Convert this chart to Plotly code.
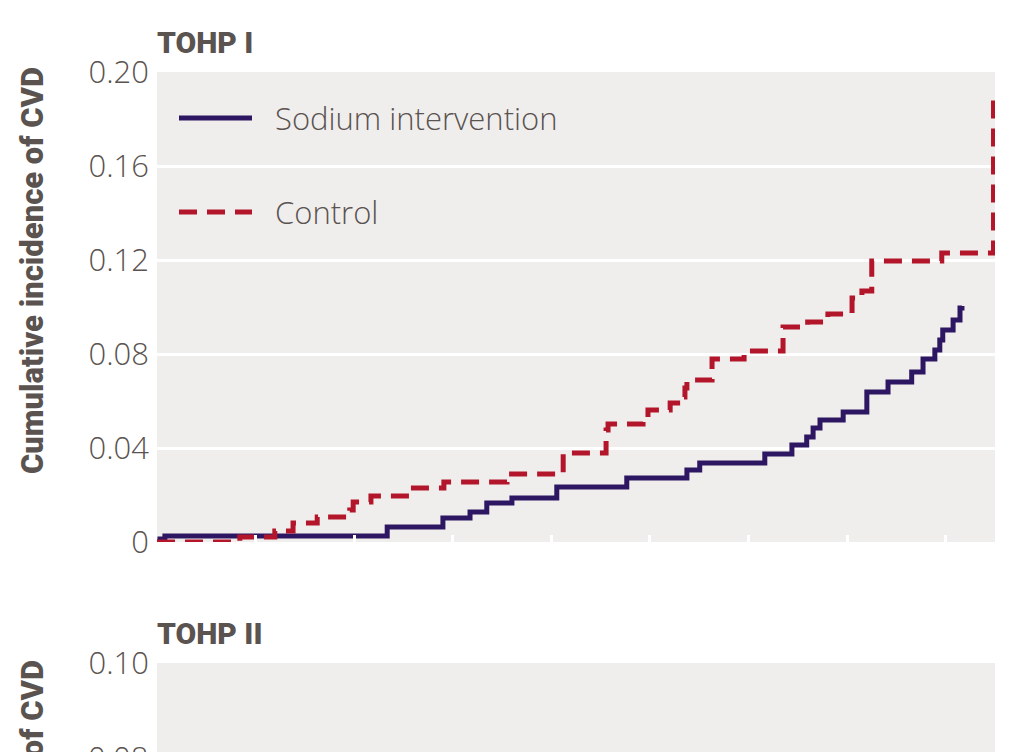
import plotly.graph_objects as go

# ---------------- data ----------------
# years since randomisation (step times) and cumulative incidence of CVD
sodium_years = [0.0, 0.06, 0.16, 4.67, 5.80, 6.35, 6.69, 7.20, 8.11, 9.53, 10.75, 11.01,
                12.33, 12.88, 13.18, 13.31, 13.45, 13.92, 14.40, 14.83, 15.31, 15.54,
                15.78, 15.88, 15.94, 16.15, 16.29, 16.33]
sodium_cvd = [0.0, 0.0013, 0.0026, 0.0064, 0.0102, 0.0128, 0.0166, 0.0187, 0.0234, 0.0272,
              0.0306, 0.0336, 0.0374, 0.0413, 0.0447, 0.0485, 0.0519, 0.0553, 0.0638,
              0.0681, 0.0723, 0.0779, 0.0817, 0.0860, 0.0902, 0.0945, 0.0996, 0.1004]

control_years = [0.0, 1.68, 2.39, 2.76, 3.25, 3.91, 3.98, 4.34, 5.13, 5.82, 7.10, 8.24,
                 9.11, 9.15, 9.86, 9.96, 10.41, 10.65, 10.71, 10.75, 11.26, 11.91, 12.70,
                 13.20, 13.61, 14.10, 14.30, 14.50, 15.92, 16.97]
control_cvd = [0.0, 0.0021, 0.0047, 0.0081, 0.0106, 0.0136, 0.0170, 0.0196, 0.0230, 0.0255,
               0.0289, 0.0379, 0.0477, 0.0502, 0.0532, 0.0562, 0.0591, 0.0617, 0.0655,
               0.0689, 0.0779, 0.0813, 0.0915, 0.0936, 0.0970, 0.1038, 0.1068, 0.1196,
               0.1230, 0.1911]

series_names = ["Sodium intervention", "Control"]
panel_titles = ["TOHP I", "TOHP II"]
y_title = "Cumulative incidence of CVD"

y1_tickvals = [0, 0.04, 0.08, 0.12, 0.16, 0.20]
y1_ticktext = ["0", "0.04", "0.08", "0.12", "0.16", "0.20"]
y2_tickvals = [0.10]
y2_ticktext = ["0.10"]
y2_cut_label = "0.08"
x_tickvals = [0, 2, 4, 6, 8, 10, 12, 14, 16]

# ---------------- style ----------------
W, H = 1023, 752
ML, MR, MT, MB = 157, 28, 72, 0
PH = H - MT - MB
PW = W - ML - MR

def py(p):  # pixel row -> paper y
    return (H - MB - p) / PH

def px(p):  # pixel column -> paper x
    return (p - ML) / PW

PURPLE = "#2e1762"
RED = "#b3162b"
BG = "#f0eeed"
TXT = "#5a5350"
DASH = "18px,10px"

fig = go.Figure()
fig.add_trace(go.Scatter(x=sodium_years, y=sodium_cvd, mode="lines", line_shape="hv",
                         line=dict(color=PURPLE, width=5), name=series_names[0],
                         xaxis="x", yaxis="y", showlegend=False, hoverinfo="skip"))
fig.add_trace(go.Scatter(x=control_years, y=control_cvd, mode="lines", line_shape="hv",
                         line=dict(color=RED, width=5, dash=DASH), name=series_names[1],
                         xaxis="x", yaxis="y", showlegend=False, hoverinfo="skip"))
# empty trace so the lower (cut-off) panel is created
fig.add_trace(go.Scatter(x=[None], y=[None], mode="lines", xaxis="x2", yaxis="y2",
                         showlegend=False, hoverinfo="skip"))

tickfont = dict(family="Open Sans", size=31, color=TXT, weight=300)

fig.update_layout(
    template="none",
    width=W, height=H,
    margin=dict(l=ML, r=MR, t=MT, b=MB, pad=0, autoexpand=False),
    paper_bgcolor="white",
    plot_bgcolor=BG,
    showlegend=False,
    xaxis=dict(domain=[0, 1], range=[0, 17], anchor="y", tickvals=x_tickvals,
               showticklabels=False, ticks="inside", ticklen=7, tickwidth=3,
               tickcolor="white", showgrid=False, zeroline=False, showline=False,
               automargin=False),
    yaxis=dict(domain=[py(542), 1], range=[0, 0.20], anchor="x",
               tickvals=y1_tickvals, ticktext=y1_ticktext, tickfont=tickfont,
               ticks="", ticklabelstandoff=7, showgrid=True, gridcolor="white",
               gridwidth=3, zeroline=False, showline=False, automargin=False),
    xaxis2=dict(domain=[0, 1], range=[0, 17], anchor="y2", showticklabels=False,
                ticks="", showgrid=False, zeroline=False, showline=False,
                automargin=False),
    yaxis2=dict(domain=[0, py(663)], range=[0.0804, 0.10], anchor="x2",
                tickvals=y2_tickvals, ticktext=y2_ticktext, tickfont=tickfont,
                ticks="", ticklabelstandoff=7, showgrid=True, gridcolor="white",
                gridwidth=3, zeroline=False, showline=False, automargin=False),
)

# legend drawn by hand (long line samples)
fig.add_shape(type="line", xref="paper", yref="paper", x0=px(179), x1=px(252),
              y0=py(118), y1=py(118), line=dict(color=PURPLE, width=5))
fig.add_shape(type="line", xref="paper", yref="paper", x0=px(179), x1=px(252),
              y0=py(212), y1=py(212), line=dict(color=RED, width=5, dash=DASH))
for name, yy in zip(series_names, [118, 212]):
    fig.add_annotation(text=name, xref="paper", yref="paper", x=px(273), y=py(yy),
                       xanchor="left", yanchor="middle", showarrow=False,
                       font=dict(family="Open Sans", size=31, color=TXT, weight=300))

# panel titles
for t, yy in zip(panel_titles, [43, 633]):
    fig.add_annotation(text=t, xref="paper", yref="paper", x=px(155),
                       y=py(yy), xanchor="left", yanchor="middle", showarrow=False,
                       font=dict(family="Roboto", size=30, color=TXT, weight=900))

# y-axis titles (second one is cut by the page edge)
for yy in [271, 864]:
    fig.add_annotation(text=y_title, xref="paper", yref="paper",
                       x=px(32), y=py(yy), xanchor="center", yanchor="middle",
                       textangle=-90, showarrow=False,
                       font=dict(family="Roboto", size=31, color=TXT, weight=900))

# partially visible tick label of the lower panel
fig.add_annotation(text=y2_cut_label, xref="paper", yref="paper", x=px(150), y=py(757),
                   xanchor="right", yanchor="middle", showarrow=False, font=tickfont)

fig.write_html("out.html")
